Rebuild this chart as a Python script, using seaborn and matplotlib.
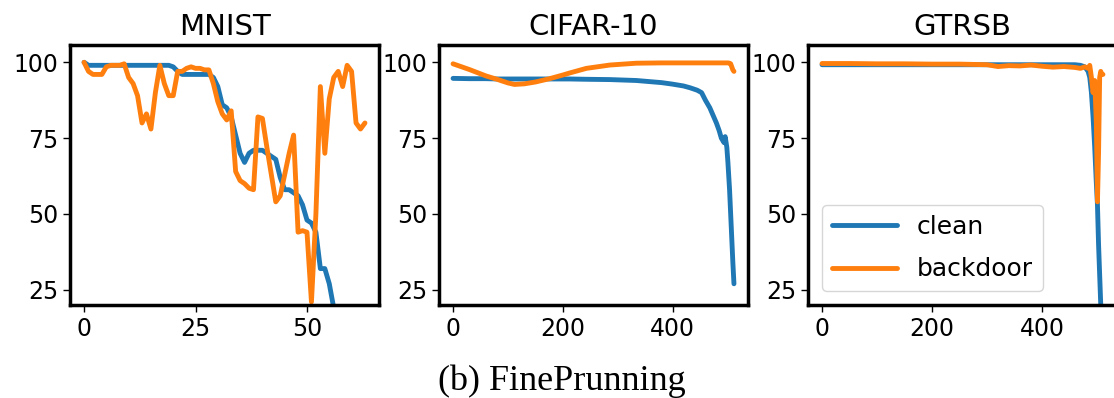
import numpy as np
import pandas as pd
import seaborn as sns
import matplotlib.pyplot as plt

sns.set_style("ticks", {"axes.edgecolor": "black", "xtick.color": "black", "ytick.color": "black",
                        "text.color": "black"})
plt.rcParams['font.family'] = ['DejaVu Sans']

# ---------------- data ----------------

mnist_clean = [100, 99, 99, 99, 99, 99, 99, 99, 99, 99,
               99, 99, 99, 99, 99, 99, 99, 99, 99, 99,
               98.5, 97, 96, 96, 96, 96, 96, 96, 96, 95,
               92, 86, 85, 82, 76, 70, 67, 70, 71, 71,
               71, 70, 69, 68, 62, 58, 58, 57, 56, 53,
               48, 47, 44, 32, 32, 27, 19, 15, 12, 10,
               10, 10, 10, 10]
mnist_backdoor = [100, 97, 96, 96, 96, 98.5, 99, 99, 99, 99.5,
                  95, 93, 89, 80, 83, 78, 90, 99, 93, 89,
                  89, 97, 97, 98, 98.5, 98, 98, 97.5, 97.5, 93,
                  87, 83, 81, 84, 64, 61, 60, 58.5, 58, 82,
                  81.5, 72, 63, 54, 56, 63, 70, 76, 44, 44.5,
                  44, 21, 50, 92, 70, 88, 95, 97, 92, 99,
                  97, 80, 78, 80]

cifar_x = [0, 30, 60, 80, 100, 112, 130, 150, 176, 200, 213, 243, 286, 334, 380,
           400, 420, 432, 445, 453, 460, 468, 474, 480, 485, 489, 494, 496, 499,
           501, 504, 506, 508, 510, 512]
cifar_clean = [94.7, 94.6, 94.6, 94.5, 94.5, 94.5, 94.5, 94.5, 94.5, 94.5, 94.5, 94.4, 94.3, 94.0, 93.3,
               92.8, 92.2, 91.6, 90.8, 90, 87.5, 85, 82.5, 80, 77.5, 75, 73.5, 75.5, 72,
               67, 58, 50, 42, 34, 27]
cifar_backdoor = [99.5, 97.6, 95.5, 94.4, 93.2, 92.7, 92.9, 93.5, 94.6, 95.8, 96.5, 98, 99.1, 99.7, 99.8,
                  99.8, 99.8, 99.8, 99.8, 99.8, 99.8, 99.8, 99.8, 99.8, 99.8, 99.8, 99.8, 99.8, 99.8,
                  99.8, 99.7, 99.5, 98.5, 97.5, 97]

gtrsb_x = [0, 50, 100, 150, 200, 250, 300, 320, 340, 360, 380, 400, 420, 440, 460, 470,
           478, 484, 487, 490, 493, 496, 499, 501, 503, 505, 507, 509, 511]
gtrsb_clean = [99.2, 99.2, 99.2, 99.2, 99.2, 99.2, 99.2, 99.2, 99.2, 99.2, 99.2, 99.2, 99.2, 99.2, 99.2, 99.0,
               98.5, 97, 95, 90, 82, 72, 60, 53, 40, 30, 20, 10, 5]
gtrsb_backdoor = [99.6, 99.6, 99.5, 99.5, 99.4, 99.4, 99.2, 98.6, 98.9, 98.8, 99.1, 98.7, 98.4, 98.6, 98.3, 98.0,
                  98.5, 98, 99, 95, 90, 94, 80, 54, 70, 95, 97, 96, 96]

titles = ["MNIST", "CIFAR-10", "GTRSB"]
xticks = [[0, 25, 50], [0, 200, 400], [0, 200, 400]]
yticks = [25, 50, 75, 100]
colors = {"clean": "#1f77b4", "backdoor": "#ff7f0e"}


def long_df(x, clean, backdoor):
    a = pd.DataFrame({"x": x, "acc": clean, "kind": "clean"})
    b = pd.DataFrame({"x": x, "acc": backdoor, "kind": "backdoor"})
    return pd.concat([a, b], ignore_index=True)


frames = [long_df(np.arange(len(mnist_clean)), mnist_clean, mnist_backdoor),
          long_df(cifar_x, cifar_clean, cifar_backdoor),
          long_df(gtrsb_x, gtrsb_clean, gtrsb_backdoor)]

# ---------------- figure ----------------

fig = plt.figure(figsize=(11.14, 3.98), dpi=100)
lefts = [70 / 1114, 439 / 1114, 808 / 1114]
W, H = 309 / 1114, 260 / 398
B = 1 - 305 / 398

for i, df in enumerate(frames):
    ax = fig.add_axes([lefts[i], B, W, H])
    sns.lineplot(data=df, x="x", y="acc", hue="kind", hue_order=["clean", "backdoor"],
                 palette=colors, lw=3.5, estimator=None, sort=False, ax=ax, legend=(i == 2))
    ax.set_ylim(20, 105.7)
    ax.set_yticks(yticks)
    ax.set_xticks(xticks[i])
    ax.set_xlabel("")
    ax.set_ylabel("")
    ax.set_title(titles[i], fontsize=21, pad=7)
    ax.tick_params(labelsize=17, length=5, width=1)
    for s in ax.spines.values():
        s.set_linewidth(2.5)
        s.set_visible(True)
    if i == 2:
        ax.legend(loc="lower left", fontsize=18, handlelength=2.6, frameon=True,
                  borderaxespad=0.55, labelspacing=0.75, title=None)

fig.text(562 / 1114, 1 - 390 / 398, "(b) FinePrunning", ha="center", va="baseline",
         fontsize=26, family=['Liberation Serif', 'DejaVu Serif'])

fig.savefig("out.png", dpi=100)
